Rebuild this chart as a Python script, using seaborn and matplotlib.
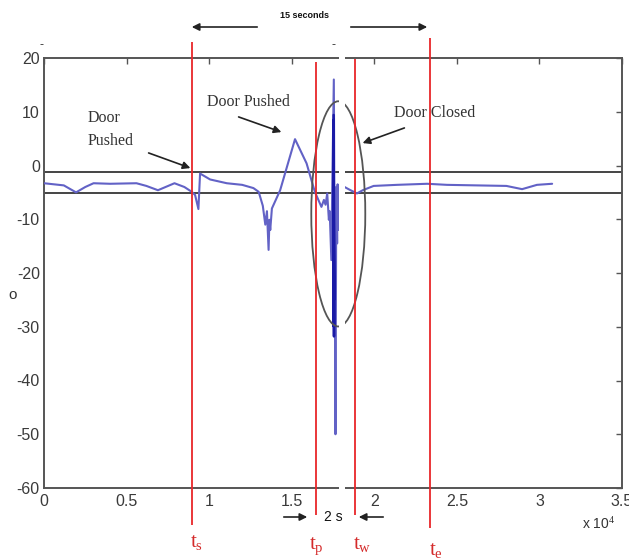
import numpy as np
import pandas as pd
import matplotlib
matplotlib.use("Agg")
import matplotlib.pyplot as plt
from matplotlib.patches import Ellipse, Rectangle, FancyArrowPatch
import seaborn as sns

# ---------------- data ----------------
trace_x = [0, 600, 1200, 1940, 2500, 3000, 4000, 5600, 6200, 6900, 7900, 8500,
           8950, 9150, 9350, 9450, 10060, 11070, 12000, 12680, 13000, 13250,
           13400, 13500, 13600, 13650, 13700, 13800, 14300, 15200, 15900,
           16400, 16800, 16950, 17050, 17150, 17250, 17300, 17400, 17450,
           17550, 17650, 17700, 17750, 17780, 17800, 17850,
           18140, 18500, 18950, 19300, 19960, 21370, 23200, 24400, 28000,
           28950, 29850, 30770]
trace_y = [-3.3, -3.5, -3.7, -5.0, -4.0, -3.3, -3.4, -3.3, -3.8, -4.6, -3.3, -4.0,
           -4.9, -5.5, -8.1, -1.5, -2.6, -3.3, -3.6, -4.2, -4.9, -7.5,
           -11.0, -8.5, -15.7, -10.1, -12.0, -8.0, -4.6, 4.9, 0.4,
           -4.9, -7.7, -6.4, -7.3, -5.2, -10.1, -8.5, -17.6, -5.0,
           16.0, -50.0, -4.0, -14.5, -3.5, -12.0, -5.0,
           -3.9, -4.5, -5.2, -4.6, -3.8, -3.6, -3.4, -3.6, -3.8,
           -4.4, -3.6, -3.4]

burst_x = [17540, 17560, 17540, 17560, 17540, 17560, 17540]
burst_y = [9.4, -31.8, 8.5, -30.0, 7.0, -25.0, -5.0]

event_names = ["s", "p", "w", "e"]
event_x = [8950, 16480, 18850, 23390]

threshold_y = [-1.15, -5.2]

y_ticks = [-60, -50, -40, -30, -20, -10, 0, 10, 20]
x_ticks = [0, 5000, 10000, 15000, 20000, 25000, 30000, 35000]
x_tick_labels = ["0", "0.5", "1", "1.5", "2", "2.5", "3", "3.5"]

# ---------------- style ----------------
sns.set_theme(style="white")
plt.rcParams["font.family"] = ["Liberation Sans", "DejaVu Sans"]
plt.rcParams["mathtext.fontset"] = "custom"
plt.rcParams["mathtext.rm"] = "Liberation Serif"
plt.rcParams["mathtext.it"] = "Liberation Serif"

W, H = 629, 560
fig = plt.figure(figsize=(W / 100, H / 100), dpi=100)
ax = fig.add_axes([44 / W, 1 - 488 / H, (622 - 44) / W, (488 - 58) / H])

def fx(px):
    return px / W

def fy(py):
    return 1 - py / H

df = pd.DataFrame({"x": trace_x, "y": trace_y})
sns.lineplot(data=df, x="x", y="y", sort=False, estimator=None, ax=ax,
             color="#6262c6", lw=1.5, zorder=3)
dfb = pd.DataFrame({"x": burst_x, "y": burst_y})
sns.lineplot(data=dfb, x="x", y="y", sort=False, estimator=None, ax=ax,
             color="#1a1aa6", lw=1.8, zorder=4)

for ty in threshold_y:
    ax.axhline(ty, color="#444444", lw=1.4, zorder=2)

ax.set_xlim(0, 35000)
ax.set_ylim(-60, 20)
ax.set_xticks(x_ticks)
ax.set_xticklabels(x_tick_labels)
ax.set_yticks(y_ticks)
ax.set_yticklabels([str(v) for v in y_ticks])
ax.tick_params(direction="in", length=4, width=1, colors="#555555",
               labelcolor="#3a3a3a", labelsize=11.5, top=True, right=True,
               pad=3)
ax.tick_params(axis="x", pad=4)
for s in ax.spines.values():
    s.set_color("#555555")
    s.set_linewidth(1.4)
ax.set_xlabel("")
ax.set_ylabel("")

# ellipse around the burst
ax.add_patch(Ellipse((17820, -9.0), 3270, 41.9, fill=False,
                     edgecolor="#555555", lw=1.3, zorder=5))

# red event lines extending outside the axes
red_tops = [23.0, 19.3, 19.8, 23.7]
red_bots = [-66.9, -65.0, -65.0, -67.4]
for xv, t, b in zip(event_x, red_tops, red_bots):
    ax.vlines(xv, b, t, color="#e8262a", lw=1.3, clip_on=False, zorder=6)

# white splice strip
fig.add_artist(Rectangle((fx(339), 0), fx(345) - fx(339), 1,
                         transform=fig.transFigure, facecolor="white",
                         edgecolor="none", zorder=20))

# annotations
serif = ["Liberation Serif", "DejaVu Serif"]
fig.text(fx(88), fy(118), "Door", family=serif, fontsize=11.5,
         color="#333333", va="center", ha="left", zorder=25)
fig.text(fx(88), fy(141), "Pushed", family=serif, fontsize=11.5,
         color="#333333", va="center", ha="left", zorder=25)
fig.text(fx(207), fy(102), "Door Pushed", family=serif, fontsize=11.5,
         color="#333333", va="center", ha="left", zorder=25)
fig.text(fx(394), fy(113), "Door Closed", family=serif, fontsize=11.5,
         color="#333333", va="center", ha="left", zorder=25)

arrow_kw = dict(arrowstyle="-|>", color="#222222", lw=1.2, mutation_scale=11)

def arrow(p0, p1):
    fig.add_artist(FancyArrowPatch((fx(p0[0]), fy(p0[1])),
                                   (fx(p1[0]), fy(p1[1])),
                                   transform=fig.transFigure, zorder=25,
                                   **arrow_kw))

arrow((146, 152), (193, 169))
arrow((236, 116), (284, 133))
arrow((407, 127), (360, 144))

# 15 seconds arrows
fig.text(fx(305), fy(15), "15 seconds", fontsize=6.5, fontweight="bold",
         color="#111111", ha="center", va="center", zorder=25)
arrow((260, 27), (189, 27))
arrow((348, 27), (430, 27))

# 2 s arrows
fig.text(fx(333), fy(517), "2 s", fontsize=10, color="#111111",
         ha="center", va="center", zorder=25)
arrow((281, 517), (310, 517))
arrow((386, 517), (356, 517))

# event labels
label_px = [(197, 543), (316, 546), (362, 544), (436, 550)]
for name, (lx, ly) in zip(event_names, label_px):
    fig.text(fx(lx), fy(ly), r"$\mathrm{t_{%s}}$" % name, fontsize=15,
             color="#d42a2a", ha="center", va="center", zorder=25)

# exponent and axis label
fig.text(fx(599), fy(524), r"x 10$^{4}$", fontsize=10, color="#333333",
         ha="center", va="center", zorder=25)
fig.text(fx(13), fy(295), "o", fontsize=11, color="#333333",
         ha="center", va="center", zorder=25)
fig.text(fx(41), fy(45), "-", fontsize=9, color="#333333",
         ha="center", va="center", zorder=25)
fig.text(fx(333), fy(45), "-", fontsize=9, color="#333333",
         ha="center", va="center", zorder=25)

fig.savefig("out.png", dpi=100)
